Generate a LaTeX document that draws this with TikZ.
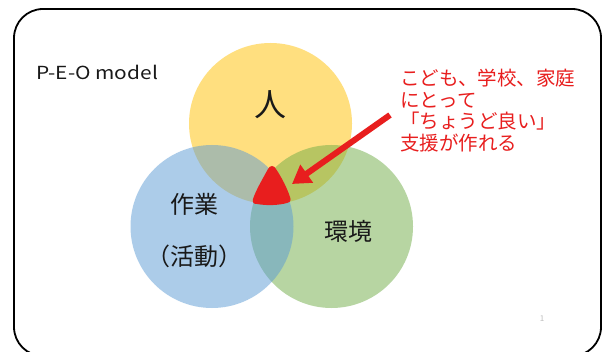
\documentclass[tikz,border=0pt]{standalone}
\usepackage{fontspec}
\setmainfont{Noto Sans CJK JP}
\usetikzlibrary{arrows.meta}
\definecolor{cyel}{HTML}{FFC000}
\definecolor{cblu}{HTML}{5B9BD5}
\definecolor{cgrn}{HTML}{70AD47}
\definecolor{cred}{RGB}{232,30,30}
\definecolor{cnum}{RGB}{190,190,190}
\tikzset{
  venn/.style={fill opacity=0.5, draw=none},
  lbl/.style={text=black!90, inner sep=0pt},
  note/.style={text=cred, inner sep=0pt, anchor=base west, font=\fontsize{19.5}{21.7}\selectfont},
}
\begin{document}
\begin{tikzpicture}[x=1pt,y=-1pt]
\useasboundingbox (0,0) rectangle (604,352);
\fill[white] (0,0) rectangle (604,352);
% frame
\draw[line width=1.8pt, rounded corners=29pt] (14,9) rectangle (601,356);
% venn circles
\fill[venn, cyel] (270.5,123.5) ellipse [x radius=81.5, y radius=80.5];
\fill[venn, cgrn] (331.5,226.5) ellipse [x radius=81.5, y radius=81.5];
\fill[venn, cblu] (212,226.5) ellipse [x radius=81.5, y radius=81.5];
% red center shape
\fill[cred] (268,169) .. controls (262,180) and (256,190) .. (253,199)
  .. controls (252,203) and (254,204) .. (257,204)
  .. controls (268,206) and (280,205) .. (287,203)
  .. controls (291,202) and (291,200) .. (290,197)
  .. controls (287,188) and (282,178) .. (276,169)
  .. controls (274,165) and (270,165) .. (268,169) -- cycle;
% labels
\node[lbl, font=\fontsize{18}{18}\selectfont, anchor=base west] (peo) at (36,80) {\scalebox{1.16}[1]{P-E-O model}};
\node[lbl, font=\fontsize{32}{32}\selectfont] (jin) at (270,105) {人};
\node[lbl, font=\fontsize{24}{24}\selectfont] (sagyo) at (194,204) {作業};
\node[lbl, font=\fontsize{24}{24}\selectfont] (katsu) at (194,256) {（活動）};
\node[lbl, font=\fontsize{24}{24}\selectfont] (kankyo) at (348,231) {環境};
% red note
\node[note] (l1) at (400,85.4) {こども、学校、家庭};
\node[note] (l2) at (400,107.1) {にとって};
\node[note] (l3) at (400,128.8) {「ちょうど良い」};
\node[note] (l4) at (400,150.5) {支援が作れる};
% arrow
\coordinate (as) at (390,115);
\coordinate (ae) at (292,184);
\draw[cred, line width=6pt, -{Triangle[length=18pt,width=21pt]}] (as) -- (ae);
% page number
\node[text=cnum, font=\fontsize{8}{8}\selectfont, inner sep=0pt] (pg) at (542,319) {1};
\end{tikzpicture}
\end{document}
